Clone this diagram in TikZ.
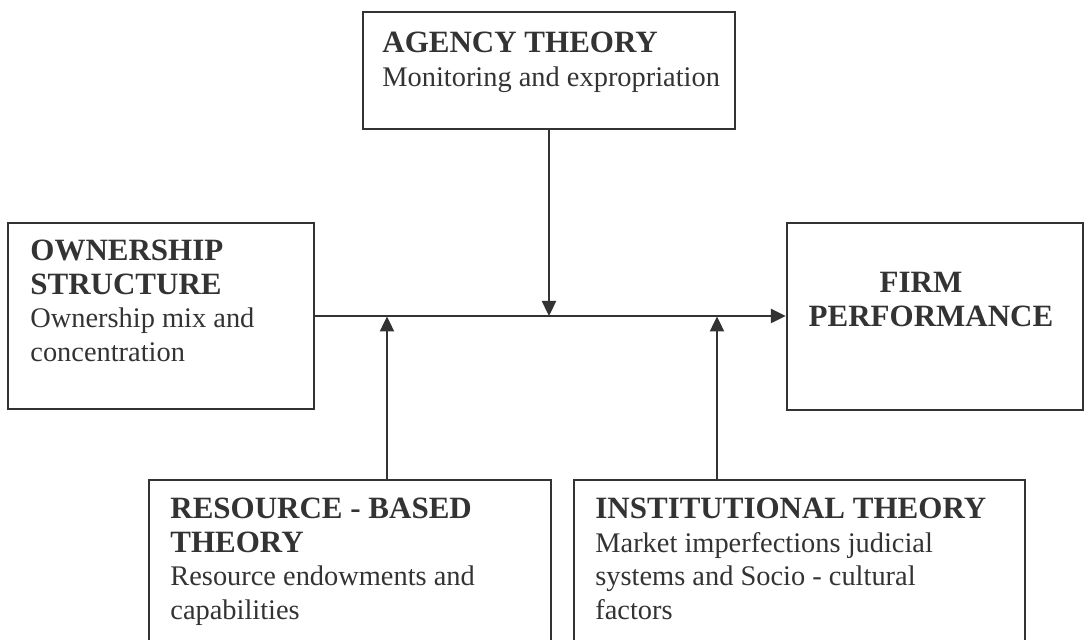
\documentclass[tikz,border=0pt]{standalone}
\usepackage{fontspec}
\setmainfont{Liberation Serif}
\usetikzlibrary{arrows.meta}
\usetikzlibrary{fit}

\definecolor{ink}{HTML}{333333}
\newcommand{\hd}[1]{{\fontsize{15.5}{16.75}\selectfont\bfseries #1}}

\tikzset{
  frame/.style={draw=ink, line width=1.2pt, inner sep=0pt},
  caption/.style={anchor=north west, align=left, inner sep=0pt, text=ink,
    font=\fontsize{14.2}{16.75}\selectfont},
  flow/.style={draw=ink, line width=1.2pt, -{Triangle[length=7.5pt,width=7pt]}}
}

\begin{document}
\begin{tikzpicture}[x=0.5pt,y=-0.5pt]
\useasboundingbox (0,0) rectangle (1084,640);
\clip (0,0) rectangle (1084,640);

% boxes
\node[frame, fit={(363,12) (735,129)}] (agency) {};
\node[frame, fit={(8,223) (314,409)}] (owner) {};
\node[frame, fit={(787,223) (1083,410)}] (firm) {};
\node[frame, fit={(149,480) (551,670)}] (resource) {};
\node[frame, fit={(574,480) (1025,670)}] (inst) {};

% texts
\node[caption] (agencytxt) at (382,32) {\hd{AGENCY THEORY}\\Monitoring and expropriation};
\node[caption] (ownertxt) at (30,240) {\hd{OWNERSHIP}\\\hd{STRUCTURE}\\Ownership mix and\\concentration};
\node[caption, anchor=north, align=center] (firmtxt) at (931,272) {\hd{FIRM}\hspace*{10pt}\\\hd{PERFORMANCE}};
\node[caption] (resourcetxt) at (170,498) {\hd{RESOURCE - BASED}\\\hd{THEORY}\\Resource endowments and\\capabilities};
\node[caption] (insttxt) at (595,498) {\hd{INSTITUTIONAL THEORY}\\Market imperfections judicial\\systems and Socio - cultural\\factors};

% connectors
\coordinate (rbvhit) at (387,316.5);
\coordinate (insthit) at (717,316.5);
\draw[flow] (owner.east) -- (owner.east -| firm.west);
\draw[flow] (agency.south) -- (agency.south |- owner.east);
\draw[flow] (rbvhit |- resource.north) -- (rbvhit);
\draw[flow] (insthit |- inst.north) -- (insthit);
\end{tikzpicture}
\end{document}
